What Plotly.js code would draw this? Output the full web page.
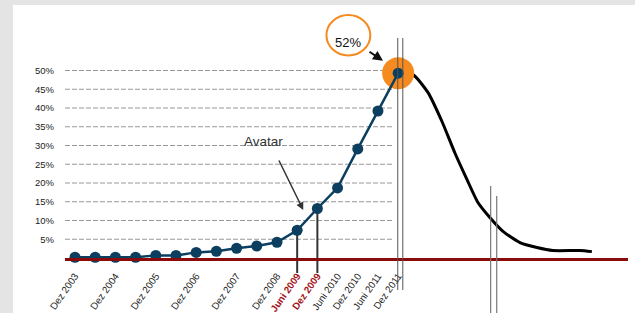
<!DOCTYPE html>
<html>
<head>
<meta charset="utf-8">
<script src="https://cdn.plot.ly/plotly-3.0.1.min.js"></script>
<style>
  html, body { margin: 0; padding: 0; background: #e4e4e4; width: 635px; height: 313px; overflow: hidden; }
  #chart { position: absolute; left: 13px; top: 5px; width: 622px; height: 308px; background: #fff; }
</style>
</head>
<body>
<div id="chart"></div>
<script>
// Half-year periods (index 0 = Dez 2003 ... 16 = Dez 2011)
var periods = ['Dez 2003','Juni 2004','Dez 2004','Juni 2005','Dez 2005','Juni 2006','Dez 2006','Juni 2007',
               'Dez 2007','Juni 2008','Dez 2008','Juni 2009','Dez 2009','Juni 2010','Dez 2010','Juni 2011','Dez 2011'];
// Share values in percent
var share = [0.2, 0.2, 0.2, 0.2, 0.7, 0.7, 1.5, 1.8, 2.6, 3.2, 4.2, 7.4, 13.2, 18.7, 29.1, 39.2, 49.3];
// Labelled periods on the x axis
var labelledPeriods = ['Dez 2003','Dez 2004','Dez 2005','Dez 2006','Dez 2007','Dez 2008','Juni 2009',
                       'Dez 2009','Juni 2010','Dez 2010','Juni 2011','Dez 2011'];
var highlightedPeriods = ['Juni 2009','Dez 2009'];
// Hand-drawn decline curve after the peak (x in half-year steps, y in percent)
var declineX = [16, 16.73, 17.48, 18.17, 18.81, 19.41, 19.95, 20.54, 21.19, 22.03, 22.87, 23.66, 25.0, 25.59];
var declineY = [49.3, 48.9, 44.1, 36.4, 28.0, 20.9, 14.8, 10.8, 7.1, 4.1, 2.8, 2.0, 2.0, 1.7];
// y ticks
var yTicks = [5, 10, 15, 20, 25, 30, 35, 40, 45, 50];
var yTickText = ['5%', '10%', '15%', '20%', '25%', '30%', '35%', '40%', '45%', '50%'];

var idx = periods.map(function (p, i) { return i; });
var tickVals = labelledPeriods.map(function (p) { return periods.indexOf(p); });
var tickText = labelledPeriods.map(function (p) {
  return highlightedPeriods.indexOf(p) >= 0 ? '<b><span style="color:#a3131a">' + p + '</span></b>' : p;
});
var peakI = share.length - 1;

var yMax = 66.67;
var navy = '#0c3f5f';
var orange = '#f58a1f';

var traces = [
  { x: declineX, y: declineY, mode: 'lines', line: { color: '#000', width: 3, shape: 'spline', smoothing: 0.6 },
    hoverinfo: 'skip', showlegend: false, cliponaxis: false },
  { x: [idx[peakI]], y: [share[peakI]], mode: 'markers', marker: { size: 32, color: orange },
    hoverinfo: 'skip', showlegend: false, cliponaxis: false },
  { x: idx, y: share, mode: 'lines+markers', line: { color: navy, width: 2.5 },
    marker: { size: 11, color: navy }, showlegend: false, cliponaxis: false }
];

var shapes = [];
// dashed gridlines (only over the history part)
yTicks.forEach(function (v) {
  shapes.push({ type: 'line', xref: 'paper', yref: 'y', x0: 0, x1: 0.582, y0: v, y1: v,
    line: { color: '#999', width: 1.2, dash: '5px,2px' }, layer: 'below' });
});
// drop lines from Juni 2009 / Dez 2009
highlightedPeriods.forEach(function (p) {
  var i = periods.indexOf(p);
  shapes.push({ type: 'line', xref: 'x', yref: 'paper', x0: i, x1: i, y0: share[i] / yMax, y1: -0.06,
    line: { color: '#333', width: 2 }, layer: 'below' });
});
// double vertical lines at the peak
[15.98, 16.23].forEach(function (xv) {
  shapes.push({ type: 'line', xref: 'x', yref: 'paper', x0: xv, x1: xv, y0: 1 - (38 - 8) / 250, y1: -0.128,
    line: { color: '#555', width: 1 }, layer: 'above' });
});
// double vertical lines on the decline
shapes.push({ type: 'line', xref: 'x', yref: 'paper', x0: 20.58, x1: 20.58, y0: (258 - 186) / 250, y1: -0.25,
  line: { color: '#777', width: 1.2 } });
shapes.push({ type: 'line', xref: 'x', yref: 'paper', x0: 20.88, x1: 20.88, y0: (258 - 196) / 250, y1: -0.25,
  line: { color: '#777', width: 1.2 } });
// orange ring around the 52% label
shapes.push({ type: 'circle', xref: 'x', yref: 'y', x0: 12.45, x1: 14.62, y0: 54.0, y1: 64.8,
  line: { color: orange, width: 2 } });

var annotations = [
  { x: 13.52, y: 57.5, xref: 'x', yref: 'y', text: '52%', showarrow: false,
    font: { family: 'Liberation Sans, Arial, sans-serif', size: 13, color: '#111' } },
  { x: 15.25, y: 52.6, xref: 'x', yref: 'y', text: '', showarrow: true, arrowhead: 2, arrowsize: 1,
    arrowwidth: 2, arrowcolor: '#111', ax: -15, ay: -10 },
  { x: 9.32, y: 31.2, xref: 'x', yref: 'y', text: 'Avatar', showarrow: false,
    font: { family: 'Liberation Sans, Arial, sans-serif', size: 13.5, color: '#333' } },
  { x: 11.3, y: 12.8, xref: 'x', yref: 'y', text: '', showarrow: true, arrowhead: 2, arrowsize: 1,
    arrowwidth: 1.5, arrowcolor: '#333', ax: -25, ay: -51 }
];

var layout = {
  width: 622, height: 308,
  margin: { l: 52, r: 7, t: 3, b: 55 },
  paper_bgcolor: '#fff', plot_bgcolor: '#fff',
  font: { family: 'Liberation Sans, Arial, sans-serif', color: '#333' },
  showlegend: false,
  xaxis: {
    range: [-0.495, 27.38], tickvals: tickVals, ticktext: tickText, tickangle: -55,
    tickfont: { size: 9.8, color: '#222' }, showgrid: false, zeroline: false,
    showline: true, linecolor: '#8b0a0a', linewidth: 2.5, ticks: '', ticklabelstandoff: 6
  },
  yaxis: {
    range: [0, yMax], tickvals: yTicks, ticktext: yTickText, tickfont: { size: 9.5, color: '#222' },
    showgrid: false, zeroline: false, showline: false, ticks: '', ticklabelstandoff: 10
  },
  shapes: shapes,
  annotations: annotations
};

Plotly.newPlot('chart', traces, layout, { displayModeBar: false, staticPlot: true });
</script>
</body>
</html>
